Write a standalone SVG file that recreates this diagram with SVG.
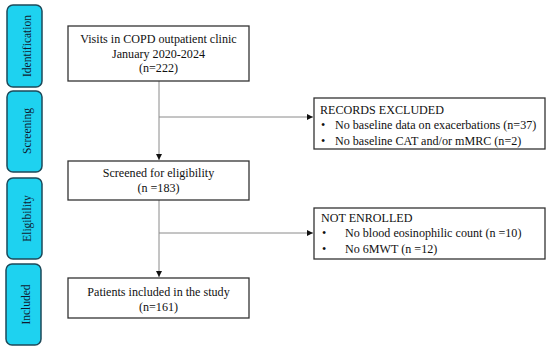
<svg xmlns="http://www.w3.org/2000/svg" width="550" height="351" viewBox="0 0 550 351">
<style>
.side{fill:#1ed2f0;stroke:#1d4a5a;stroke-width:1.5}
.sidet{font-family:"Liberation Serif",serif;font-size:11.5px;fill:#101a30;text-anchor:middle}
.box{fill:#fff;stroke:#333;stroke-width:1.3}
.t{font-family:"Liberation Serif",serif;font-size:12.1px;fill:#111}
.c{text-anchor:middle}
.ln{stroke:#8a8a8a;stroke-width:1;fill:none}
</style>
<defs>
<marker id="ah" viewBox="0 0 6 6" refX="6" refY="3" markerWidth="6" markerHeight="6" orient="auto" markerUnits="userSpaceOnUse">
<path d="M0,0 L6,3 L0,6 z" fill="#111"/>
</marker>
</defs>
<rect width="550" height="351" fill="#fff"/>
<g id="lab-identification"><rect class="side" x="7" y="5" width="35" height="82" rx="6"/><text class="sidet" transform="translate(30.5,46) rotate(-90)">Identification</text></g>
<g id="lab-screening"><rect class="side" x="7" y="91" width="35" height="81" rx="6"/><text class="sidet" transform="translate(30.5,131) rotate(-90)">Screening</text></g>
<g id="lab-eligibility"><rect class="side" x="7" y="178" width="35" height="81" rx="6"/><text class="sidet" transform="translate(30.5,218.5) rotate(-90)">Eligibility</text></g>
<g id="lab-included"><rect class="side" x="6" y="264" width="35" height="81" rx="6"/><text class="sidet" transform="translate(30,304.5) rotate(-90)">Included</text></g>
<g id="connectors">
<line class="ln" x1="159" y1="81" x2="159" y2="160" marker-end="url(#ah)"/>
<line class="ln" x1="159" y1="117" x2="313" y2="117" marker-end="url(#ah)"/>
<line class="ln" x1="159" y1="200" x2="159" y2="277" marker-end="url(#ah)"/>
<line class="ln" x1="159" y1="233" x2="313" y2="233" marker-end="url(#ah)"/>
</g>
<g id="visits"><rect class="box" x="68" y="26" width="181" height="55"/>
<text class="t c" x="158.5" y="43">Visits in COPD outpatient clinic</text>
<text class="t c" x="158.5" y="57.5">January 2020-2024</text>
<text class="t c" x="158.5" y="72">(n=222)</text></g>
<g id="screened"><rect class="box" x="68" y="161" width="181" height="39"/>
<text class="t c" x="158.5" y="177">Screened for eligibility</text>
<text class="t c" x="158.5" y="192">(n =183)</text></g>
<g id="included"><rect class="box" x="68" y="278" width="181" height="40"/>
<text class="t c" x="158.5" y="296">Patients included in the study</text>
<text class="t c" x="158.5" y="311">(n=161)</text></g>
<g id="excluded"><rect class="box" x="314" y="98" width="231" height="51"/>
<text class="t" x="320" y="114">RECORDS EXCLUDED</text>
<text class="t" x="321" y="129">•</text><text class="t" x="335" y="129">No baseline data on exacerbations (n=37)</text>
<text class="t" x="321" y="144.5">•</text><text class="t" x="335" y="144.5">No baseline CAT and/or mMRC (n=2)</text></g>
<g id="notenrolled"><rect class="box" x="314" y="208" width="231" height="51"/>
<text class="t" x="321" y="222">NOT ENROLLED</text>
<text class="t" x="322" y="237">•</text><text class="t" x="345" y="237">No blood eosinophilic count (n =10)</text>
<text class="t" x="322" y="252.5">•</text><text class="t" x="345" y="252.5">No 6MWT (n =12)</text></g>
</svg>
